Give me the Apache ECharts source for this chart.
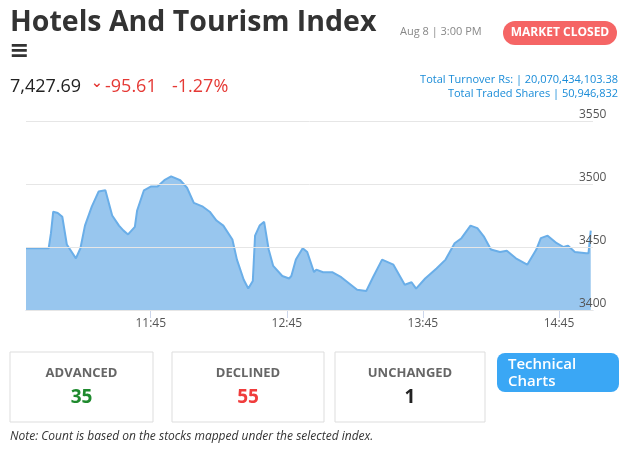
<!DOCTYPE html>
<html><head><meta charset="utf-8">
<script src="https://cdn.jsdelivr.net/npm/echarts@6/dist/echarts.min.js"></script>
<style>body{margin:0}#c{width:635px;height:450px}</style></head>
<body><div id="c"></div>
<script>
const times=[650,660,661,662,664,666,668,672,674,676,679,682,685,688,691,693,695,698,699,702,705,708,711,714,718,721,724,728,731,734,737,741,743,746,748,750,751,753,755,757,759,763,766,767,769,772,774,777,778,781,785,789,796,800,803,807,812,817,820,822,826,831,835,839,842,846,849,852,855,859,862,866,871,875,877,880,884,887,889,892,897,898,899];
const values=[3449,3449,3461,3478,3477,3474,3452,3441,3449,3467,3482,3494,3495,3475,3467,3463,3460,3466,3479,3495,3498,3498,3503,3506,3503,3497,3485,3482,3478,3471,3467,3456,3440,3424,3417,3423,3459,3467,3470,3448,3435,3427,3425,3427,3440,3449,3446,3430,3432,3430,3430,3426,3416,3415,3426,3440,3436,3420,3422,3417,3425,3433,3440,3453,3457,3467,3465,3458,3448,3446,3447,3441,3436,3448,3457,3459,3453,3450,3451,3446,3445,3445,3463];
const xTicks=[705,765,825,885];
const yTicks=[3400,3450,3500,3550];
const fmt=v=>Math.floor(v/60)+':'+String(v%60).padStart(2,'0');
const F='"Open Sans", "Noto Sans", sans-serif';
const ch=echarts.init(document.getElementById('c'));
const box=(x,w,label,num,col)=>[
 {type:'rect',shape:{x:x,y:352,width:w,height:70},style:{fill:'#fff',stroke:'#ddd',lineWidth:1}},
 {type:'text',x:x+w/2,y:373,style:{text:label,fill:'#666',font:'bold 13px '+F,align:'center',verticalAlign:'middle'}},
 {type:'text',x:x+w/2,y:398,style:{text:num,fill:col,font:'bold 19px '+F,align:'center',verticalAlign:'middle'}}
];
ch.setOption({
 animation:false,
 grid:{left:26,right:42,top:121,bottom:140},
 xAxis:{type:'value',min:650,max:900,
  axisLine:{lineStyle:{color:'#ccd6eb'}},
  axisTick:{show:true,customValues:xTicks,length:8,lineStyle:{color:'#ccd6eb'}},
  axisLabel:{customValues:xTicks,formatter:fmt,color:'#555',fontSize:12,fontFamily:F},
  splitLine:{show:false}},
 yAxis:{type:'value',position:'right',min:3400,max:3550,interval:50,z:10,
  axisLine:{show:false},axisTick:{show:false},
  axisLabel:{margin:-14,verticalAlign:'bottom',color:'#555',fontSize:12,fontFamily:F,formatter:v=>String(v),hideOverlap:false,showMinLabel:true,showMaxLabel:true},
  splitLine:{lineStyle:{color:'#e6e6e6'}}},
 series:[{type:'line',data:times.map((t,i)=>[t,values[i]]),showSymbol:false,smooth:false,
  lineStyle:{color:'#6aaee8',width:2},areaStyle:{color:'#98c6ee',opacity:1}}],
 graphic:[
  {type:'text',x:10,y:8,style:{text:'Hotels And Tourism Index',fill:'#333',font:'bold 28.5px '+F}},
  {type:'text',x:9,y:40,style:{text:'≡',fill:'#333',font:'bold 24px "DejaVu Sans"'}},
  {type:'text',x:400,y:26,style:{text:'Aug 8 | 3:00 PM',fill:'#888',font:'11px '+F}},
  {type:'rect',shape:{x:503,y:21,width:114,height:24,r:12},style:{fill:'#f56565'}},
  {type:'text',x:560,y:33,style:{text:'MARKET CLOSED',fill:'#fff',font:'bold 12px '+F,align:'center',verticalAlign:'middle'}},
  {type:'text',x:10,y:87,style:{text:'7,427.69',fill:'#222',font:'18px '+F,verticalAlign:'middle'}},
  {type:'text',x:91,y:83,style:{text:'⌄',fill:'#e53935',font:'bold 14px "DejaVu Sans"',verticalAlign:'middle'}},
  {type:'text',x:105,y:87,style:{text:'-95.61',fill:'#e53935',font:'18px '+F,verticalAlign:'middle'}},
  {type:'text',x:172,y:87,style:{text:'-1.27%',fill:'#e53935',font:'18px '+F,verticalAlign:'middle'}},
  {type:'text',x:618,y:80,style:{text:'Total Turnover Rs: | 20,070,434,103.38',fill:'#1a8cd8',font:'11px '+F,align:'right',verticalAlign:'middle'}},
  {type:'text',x:618,y:94,style:{text:'Total Traded Shares | 50,946,832',fill:'#1a8cd8',font:'11px '+F,align:'right',verticalAlign:'middle'}},
  ...box(10,143,'ADVANCED','35','#1f8a2e'),
  ...box(172,152,'DECLINED','55','#f03c3c'),
  ...box(335,150,'UNCHANGED','1','#222'),
  {type:'rect',shape:{x:497,y:353,width:122,height:39,r:8},style:{fill:'#3aa7f5'}},
  {type:'text',x:508,y:356,style:{text:'Technical\nCharts',fill:'#fff',font:'600 15px '+F,lineHeight:17}},
  {type:'text',x:10,y:431,style:{text:'Note: Count is based on the stocks mapped under the selected index.',fill:'#333',font:'italic 12px '+F}}
 ]
});
</script></body></html>
